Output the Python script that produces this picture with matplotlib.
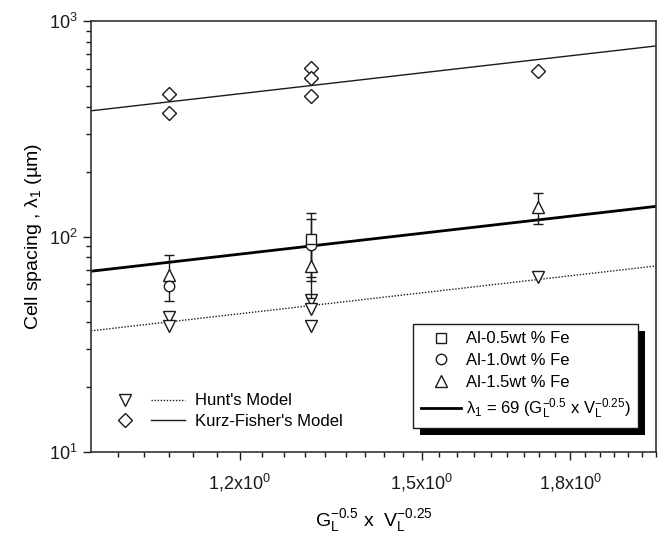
import numpy as np
import matplotlib
matplotlib.use("Agg")
import matplotlib.pyplot as plt
from matplotlib.lines import Line2D
from matplotlib.legend_handler import HandlerTuple
from matplotlib.patches import Rectangle
from matplotlib.ticker import FixedLocator, FixedFormatter, NullFormatter, LogLocator

plt.rcParams.update({
    "font.family": "Liberation Sans",
    "mathtext.fontset": "custom",
    "mathtext.rm": "Liberation Sans",
    "mathtext.it": "Liberation Sans:italic",
    "mathtext.bf": "Liberation Sans:bold",
})

INK = "#1a1a1a"

# ---- data ----
# Hunt's model points (open down-triangles)
hunt_x = [1.10, 1.10, 1.31, 1.31, 1.31, 1.73]
hunt_y = [42.5, 38.5, 50.7, 46.0, 38.4, 65.2]
# Kurz-Fisher model points (open diamonds)
kf_x = [1.10, 1.10, 1.31, 1.31, 1.31, 1.73]
kf_y = [457, 375, 602, 545, 449, 589]
# measured cell spacing
al05_x, al05_y, al05_err = [1.31], [97], [32]
al10_x, al10_y, al10_err = [1.10, 1.31], [59, 91], [0, 29]
al15_x, al15_y, al15_err = [1.10, 1.31, 1.73], [66, 73, 137], [16, 21, 23]
# model / fit lines (end points)
line_x = [1.0, 2.0]
hunt_line = [36.5, 73.0]
kf_line = [383, 766]
fit_line = [69, 138]

fig = plt.figure(figsize=(6.65, 5.35), dpi=100)
ax = fig.add_axes([91/665, 1-452/535, 565/665, 431/535])
ax.set_xscale("log"); ax.set_yscale("log")

ax.plot(line_x, hunt_line, ls=(0, (1, 1.2)), lw=1.0, color=INK)
ax.plot(line_x, kf_line, ls="-", lw=1.0, color=INK)
ax.plot(line_x, fit_line, ls="-", lw=2.0, color="k")

mk = dict(mfc="white", mec=INK, mew=1.0, ls="none", color=INK)
ax.plot(hunt_x, hunt_y, marker="v", ms=8, **mk)
ax.plot(kf_x, kf_y, marker="D", ms=6.8, **mk)
eb = dict(capsize=3.5, elinewidth=1.0, capthick=1.0, ecolor=INK)
ax.errorbar(al15_x, al15_y, yerr=al15_err, marker="^", ms=8, **eb, **mk)
ax.errorbar(al10_x, al10_y, yerr=al10_err, marker="o", ms=7.5, **eb, **mk)
ax.errorbar(al05_x, al05_y, yerr=al05_err, marker="s", ms=7, **eb, **mk)

ax.set_xlim(1.0, 2.0)
ax.set_ylim(10, 1000)

ax.xaxis.set_major_locator(FixedLocator([1.2, 1.5, 1.8]))
ax.xaxis.set_major_formatter(FixedFormatter([r"1,2x10$^{0}$", r"1,5x10$^{0}$", r"1,8x10$^{0}$"]))
minors = [m for m in 1 + np.arange(1, 31) / 30 if min(abs(m - t) for t in (1.2, 1.5, 1.8)) > 1e-6]
ax.xaxis.set_minor_locator(FixedLocator(minors))
ax.xaxis.set_minor_formatter(NullFormatter())
ax.yaxis.set_major_locator(LogLocator(base=10, numticks=5))
ax.yaxis.set_minor_locator(LogLocator(base=10, subs=np.arange(2, 10), numticks=20))

ax.tick_params(which="both", direction="out", top=False, right=False, colors=INK, labelsize=13)
ax.tick_params(which="major", length=6, width=1.0)
ax.tick_params(which="minor", length=3.5, width=1.0)
ax.tick_params(axis="x", pad=8)
for s in ax.spines.values():
    s.set_linewidth(1.2); s.set_color("#333333")

ax.set_ylabel(r"Cell spacing , $\mathregular{λ_1}$ (µm)", fontsize=14, labelpad=4)
ax.set_xlabel(r"$\mathregular{G_L^{-0.5}}$ x  $\mathregular{V_L^{-0.25}}$", fontsize=14, labelpad=10)

# left legend: model symbols + model lines
h_hunt = (Line2D([], [], marker="v", ms=8, **mk), Line2D([], [], ls=(0, (1, 1.2)), lw=1.0, color=INK))
h_kf = (Line2D([], [], marker="D", ms=6.8, **mk), Line2D([], [], ls="-", lw=1.0, color=INK))
leg1 = ax.legend([h_hunt, h_kf], ["Hunt's Model", "Kurz-Fisher's Model"],
                 handler_map={tuple: HandlerTuple(ndivide=None, pad=0.6)},
                 loc="upper left", bbox_to_anchor=(0.03, 0.136), frameon=False,
                 fontsize=12, handlelength=4.6, handletextpad=0.6, labelspacing=0.35,
                 borderpad=0, borderaxespad=0)
ax.add_artist(leg1)

# right legend: alloys + fit
h2 = [Line2D([], [], marker="s", ms=7, **mk),
      Line2D([], [], marker="o", ms=7.5, **mk),
      Line2D([], [], marker="^", ms=8, **mk),
      Line2D([], [], ls="-", lw=2.0, color="k")]
lab2 = ["Al-0.5wt % Fe", "Al-1.0wt % Fe", "Al-1.5wt % Fe",
        r"$\mathregular{λ_1}$ = 69 ($\mathregular{G_L^{-0.5}}$ x $\mathregular{V_L^{-0.25}}$)"]
leg2 = ax.legend(h2, lab2, loc="upper left", bbox_to_anchor=(0.570, 0.297),
                 fontsize=12, handlelength=2.4, handletextpad=0.3, labelspacing=0.4,
                 borderpad=0.45, borderaxespad=0, fancybox=False, framealpha=1,
                 edgecolor=INK)
leg2.get_frame().set_linewidth(1.0)

# heavy drop shadow behind the framed legend
fig.canvas.draw()
bb = leg2.get_window_extent()
ax.add_patch(Rectangle((bb.x0 + 7, bb.y0 - 7), bb.width, bb.height, transform=None,
                       facecolor="k", edgecolor="none", zorder=4.5, clip_on=False))

fig.savefig("out.png", dpi=100)
